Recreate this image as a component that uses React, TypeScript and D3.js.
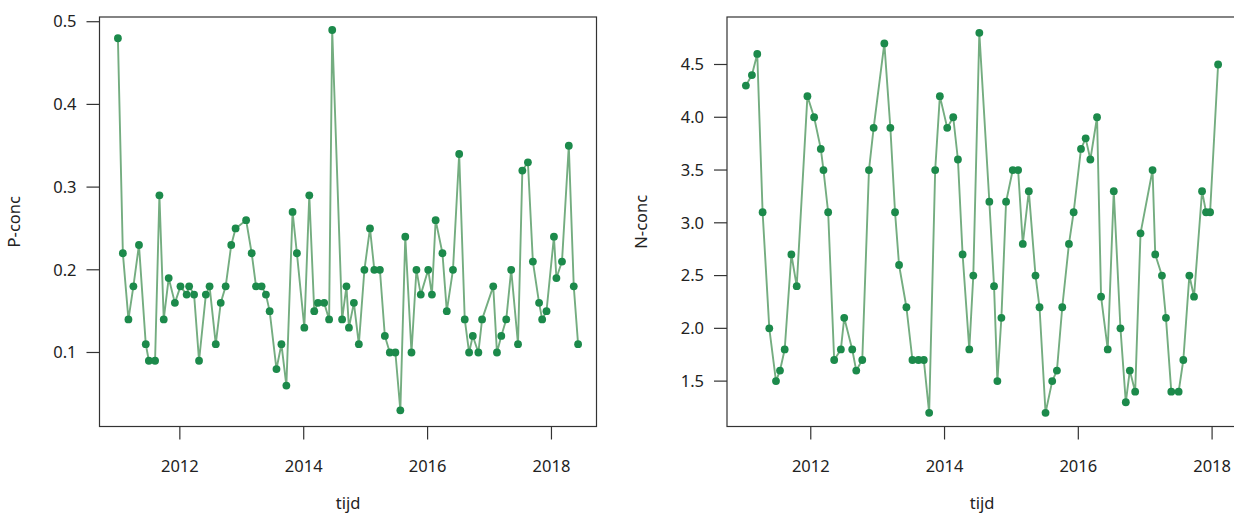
import React from "react";
import * as d3 from "d3";

// P-conc series (left panel)
const pTijd = [
  2011.0, 2011.08, 2011.17, 2011.25, 2011.34, 2011.45, 2011.5, 2011.6, 2011.67, 2011.74,
  2011.82, 2011.92, 2012.01, 2012.11, 2012.15, 2012.23, 2012.31, 2012.42, 2012.48, 2012.58,
  2012.66, 2012.74, 2012.83, 2012.9, 2013.07, 2013.16, 2013.23, 2013.32, 2013.39, 2013.45,
  2013.56, 2013.64, 2013.72, 2013.82, 2013.89, 2014.01, 2014.09, 2014.17, 2014.23, 2014.33,
  2014.41, 2014.46, 2014.62, 2014.69, 2014.73, 2014.81, 2014.89, 2014.98, 2015.07, 2015.14,
  2015.23, 2015.31, 2015.39, 2015.48, 2015.56, 2015.64, 2015.74, 2015.82, 2015.89, 2016.01,
  2016.07, 2016.13, 2016.24, 2016.31, 2016.41, 2016.51, 2016.6, 2016.67, 2016.73, 2016.82,
  2016.88, 2017.06, 2017.12, 2017.19, 2017.27, 2017.35, 2017.46, 2017.53, 2017.62, 2017.7,
  2017.8, 2017.85, 2017.92, 2018.04, 2018.08, 2018.17, 2018.28, 2018.36, 2018.43,
];
const pConc = [
  0.48, 0.22, 0.14, 0.18, 0.23, 0.11, 0.09, 0.09, 0.29, 0.14,
  0.19, 0.16, 0.18, 0.17, 0.18, 0.17, 0.09, 0.17, 0.18, 0.11,
  0.16, 0.18, 0.23, 0.25, 0.26, 0.22, 0.18, 0.18, 0.17, 0.15,
  0.08, 0.11, 0.06, 0.27, 0.22, 0.13, 0.29, 0.15, 0.16, 0.16,
  0.14, 0.49, 0.14, 0.18, 0.13, 0.16, 0.11, 0.2, 0.25, 0.2,
  0.2, 0.12, 0.1, 0.1, 0.03, 0.24, 0.1, 0.2, 0.17, 0.2,
  0.17, 0.26, 0.22, 0.15, 0.2, 0.34, 0.14, 0.1, 0.12, 0.1,
  0.14, 0.18, 0.1, 0.12, 0.14, 0.2, 0.11, 0.32, 0.33, 0.21,
  0.16, 0.14, 0.15, 0.24, 0.19, 0.21, 0.35, 0.18, 0.11,
];

// N-conc series (right panel)
const nTijd = [
  2011.03, 2011.12, 2011.2, 2011.28, 2011.38, 2011.48, 2011.54, 2011.61, 2011.71, 2011.79,
  2011.95, 2012.05, 2012.15, 2012.19, 2012.26, 2012.35, 2012.45, 2012.5, 2012.62, 2012.68,
  2012.77, 2012.87, 2012.94, 2013.1, 2013.19, 2013.26, 2013.32, 2013.43, 2013.52, 2013.61,
  2013.69, 2013.77, 2013.86, 2013.93, 2014.04, 2014.13, 2014.2, 2014.27, 2014.37, 2014.43,
  2014.52, 2014.67, 2014.74, 2014.79, 2014.85, 2014.92, 2015.02, 2015.1, 2015.17, 2015.26,
  2015.36, 2015.42, 2015.51, 2015.61, 2015.68, 2015.76, 2015.86, 2015.93, 2016.04, 2016.11,
  2016.18, 2016.28, 2016.34, 2016.44, 2016.53, 2016.63, 2016.71, 2016.77, 2016.85, 2016.93,
  2017.11, 2017.15, 2017.25, 2017.31, 2017.39, 2017.5, 2017.57, 2017.66, 2017.73, 2017.85,
  2017.91, 2017.97, 2018.09,
];
const nConc = [
  4.3, 4.4, 4.6, 3.1, 2.0, 1.5, 1.6, 1.8, 2.7, 2.4,
  4.2, 4.0, 3.7, 3.5, 3.1, 1.7, 1.8, 2.1, 1.8, 1.6,
  1.7, 3.5, 3.9, 4.7, 3.9, 3.1, 2.6, 2.2, 1.7, 1.7,
  1.7, 1.2, 3.5, 4.2, 3.9, 4.0, 3.6, 2.7, 1.8, 2.5,
  4.8, 3.2, 2.4, 1.5, 2.1, 3.2, 3.5, 3.5, 2.8, 3.3,
  2.5, 2.2, 1.2, 1.5, 1.6, 2.2, 2.8, 3.1, 3.7, 3.8,
  3.6, 4.0, 2.3, 1.8, 3.3, 2.0, 1.3, 1.6, 1.4, 2.9,
  3.5, 2.7, 2.5, 2.1, 1.4, 1.4, 1.7, 2.5, 2.3, 3.3,
  3.1, 3.1, 4.5,
];

const xTicks = [2012, 2014, 2016, 2018];
const pTicks = [0.1, 0.2, 0.3, 0.4, 0.5];
const nTicks = [1.5, 2.0, 2.5, 3.0, 3.5, 4.0, 4.5];

const FONT = "'Noto Sans', 'Open Sans', sans-serif";
const TXT = "#222";

type PanelProps = {
  tijd: number[];
  conc: number[];
  yTicks: number[];
  yDomain: [number, number];
  yLabel: string;
  left: number;
  width: number;
  yFmt: (v: number) => string;
};

function Panel({ tijd, conc, yTicks, yDomain, yLabel, left, width, yFmt }: PanelProps) {
  const top = 17;
  const bottom = 426.5;
  const [x0, x1] = d3.extent(tijd) as [number, number];
  const pad = (x1 - x0) * 0.04;
  const x = d3.scaleLinear().domain([x0 - pad, x1 + pad]).range([left, left + width]);
  const y = d3.scaleLinear().domain(yDomain).range([bottom, top]);
  const pts = tijd.map((t, i) => [t, conc[i]] as [number, number]);
  const line = d3
    .line<[number, number]>()
    .x((d) => x(d[0]))
    .y((d) => y(d[1]))(pts);
  const tickLen = 13;
  const cx = (left + left + width) / 2;
  return (
    <g>
      <path d={line ?? ""} fill="none" stroke="#74ad80" strokeWidth={1.9} strokeLinejoin="round" />
      {pts.map((d, i) => (
        <circle key={i} cx={x(d[0])} cy={y(d[1])} r={3.9} fill="#1c8a4b" />
      ))}
      <rect x={left} y={top} width={width} height={bottom - top} fill="none" stroke="#333" strokeWidth={1.2} />
      {xTicks.map((t) => (
        <g key={t}>
          <line x1={x(t)} x2={x(t)} y1={bottom} y2={bottom + tickLen} stroke="#333" strokeWidth={1.2} />
          <text x={x(t)} y={472} textAnchor="middle" fontFamily={FONT} fontSize={16.5} fill={TXT}>
            {t}
          </text>
        </g>
      ))}
      {yTicks.map((t) => (
        <g key={t}>
          <line x1={left - tickLen} x2={left} y1={y(t)} y2={y(t)} stroke="#333" strokeWidth={1.2} />
          <text
            x={left - 23}
            y={y(t)}
            dy="0.35em"
            textAnchor="end"
            fontFamily={FONT}
            fontSize={16.5}
            fill={TXT}
          >
            {yFmt(t)}
          </text>
        </g>
      ))}
      <text x={cx} y={509} textAnchor="middle" fontFamily={FONT} fontSize={16.5} fill={TXT}>
        tijd
      </text>
      <text
        transform={`translate(${left - 80},${(top + bottom) / 2}) rotate(-90)`}
        textAnchor="middle"
        fontFamily={FONT}
        fontSize={16.5}
        fill={TXT}
      >
        {yLabel}
      </text>
    </g>
  );
}

export default function App() {
  return (
    <svg
      width={1234}
      height={514}
      style={{ position: "absolute", left: 0, top: 0, background: "#fff" }}
    >
      <rect width={1234} height={514} fill="#fff" />
      <Panel
        tijd={pTijd}
        conc={pConc}
        yTicks={pTicks}
        yDomain={[0.0105, 0.5057]}
        yLabel="P-conc"
        left={99.5}
        width={497}
        yFmt={(v) => d3.format(".1f")(v)}
      />
      <Panel
        tijd={nTijd}
        conc={nConc}
        yTicks={nTicks}
        yDomain={[1.07, 4.95]}
        yLabel="N-conc"
        left={727}
        width={510}
        yFmt={(v) => d3.format(".1f")(v)}
      />
    </svg>
  );
}
